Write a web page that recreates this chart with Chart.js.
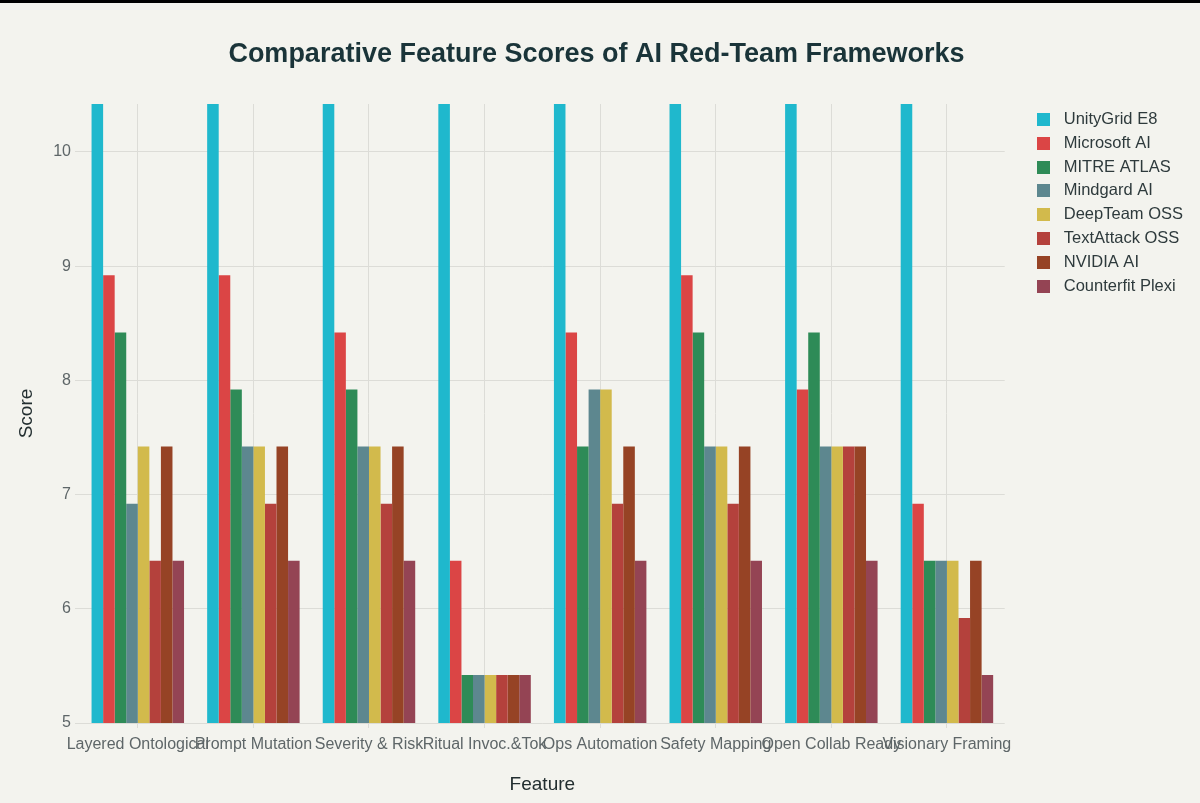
<!DOCTYPE html>
<html>
<head>
<meta charset="utf-8">
<script src="https://cdn.jsdelivr.net/npm/chart.js@4.4.1/dist/chart.umd.min.js"></script>
<style>
  html, body { margin: 0; padding: 0; background: #F3F3EE; }
  #topbar { width: 1200px; height: 3px; background: #000; }
  #wrap { position: relative; width: 1200px; height: 800px; }
</style>
</head>
<body>
<div id="topbar"></div>
<div id="wrap"><canvas id="c"></canvas></div>
<script>
const categories = ["Layered Ontological", "Prompt Mutation", "Severity & Risk", "Ritual Invoc.&Tok", "Ops Automation", "Safety Mapping", "Open Collab Ready", "Visionary Framing"];
const seriesNames = ["UnityGrid E8", "Microsoft AI", "MITRE ATLAS", "Mindgard AI", "DeepTeam OSS", "TextAttack OSS", "NVIDIA AI", "Counterfit Plexi"];
const seriesColors = ["#1FB8CD", "#DB4545", "#2E8B57", "#5D878F", "#D2BA4C", "#B4413C", "#964325", "#944454"];

const unityGrid   = [10.42, 10.42, 10.42, 10.42, 10.42, 10.42, 10.42, 10.42];
const microsoft   = [8.92, 8.92, 8.42, 6.42, 8.42, 8.92, 7.92, 6.92];
const mitreAtlas  = [8.42, 7.92, 7.92, 5.42, 7.42, 8.42, 8.42, 6.42];
const mindgard    = [6.92, 7.42, 7.42, 5.42, 7.92, 7.42, 7.42, 6.42];
const deepTeam    = [7.42, 7.42, 7.42, 5.42, 7.92, 7.42, 7.42, 6.42];
const textAttack  = [6.42, 6.92, 6.92, 5.42, 6.92, 6.92, 7.42, 5.92];
const nvidia      = [7.42, 7.42, 7.42, 5.42, 7.42, 7.42, 7.42, 6.42];
const counterfit  = [6.42, 6.42, 6.42, 5.42, 6.42, 6.42, 6.42, 5.42];

const yMin = 5, yMax = 10.42;
const yTicksStep = 1;

const seriesValues = [unityGrid, microsoft, mitreAtlas, mindgard, deepTeam, textAttack, nvidia, counterfit];

const FONT = "'Liberation Sans', Arial, Helvetica, sans-serif";
const GRID = "#DCDCD7";

// 13x13 colour swatches used as legend markers
const swatches = seriesColors.map(col => {
  const cv = document.createElement('canvas');
  cv.width = 13; cv.height = 13;
  const g = cv.getContext('2d');
  g.fillStyle = col; g.fillRect(0, 0, 13, 13);
  return cv;
});

const datasets = seriesNames.map((name, i) => ({
  label: name,
  data: seriesValues[i],
  backgroundColor: seriesColors[i],
  borderWidth: 0,
  categoryPercentage: 0.8,
  barPercentage: 1.0
}));

new Chart(document.getElementById('c'), {
  type: 'bar',
  data: { labels: categories, datasets },
  options: {
    responsive: true,
    maintainAspectRatio: false,
    animation: false,
    layout: { padding: { left: 0, right: 7, top: 0, bottom: 0 } },
    plugins: {
      title: {
        display: true,
        text: 'Comparative Feature Scores of AI Red-Team Frameworks',
        color: '#1A3439',
        font: { family: FONT, size: 27, weight: 'bold' },
        padding: { top: 35, bottom: 33.6 }
      },
      legend: {
        position: 'right',
        align: 'start',
        fullSize: false,
        labels: {
          usePointStyle: true,
          pointStyleWidth: 24.5,
          boxWidth: 13,
          boxHeight: 13,
          padding: 7.3,
          color: '#2E3A3C',
          font: { family: FONT, size: 16.5 },
          generateLabels: (chart) => {
            const items = Chart.defaults.plugins.legend.labels.generateLabels(chart);
            items.forEach((it, i) => { it.pointStyle = swatches[i]; });
            return items;
          }
        }
      },
      tooltip: { enabled: false }
    },
    scales: {
      x: {
        offset: true,
        grid: { display: true, offset: false, color: GRID, tickColor: GRID, tickLength: 5, drawTicks: true },
        border: { display: false },
        ticks: {
          autoSkip: false, maxRotation: 0, minRotation: 0, padding: 7,
          color: '#5E6668', font: { family: FONT, size: 16 }
        },
        title: {
          display: true, text: 'Feature', color: '#222E30',
          font: { family: FONT, size: 19 }, padding: { top: 0, bottom: 7 }
        },
        afterFit: (s) => { s.height = 80; }
      },
      y: {
        min: yMin, max: yMax,
        grid: { color: GRID, tickColor: GRID, tickLength: 5 },
        border: { display: false },
        ticks: {
          stepSize: yTicksStep, includeBounds: false, padding: 4,
          color: '#5E6668', font: { family: FONT, size: 16 }
        },
        title: {
          display: true, text: 'Score', color: '#222E30',
          font: { family: FONT, size: 19 }, padding: { top: 15, bottom: 0 }
        },
        afterFit: (s) => { s.width = 80; }
      },
      gap: {
        position: 'right',
        display: true,
        grid: { display: false },
        border: { display: false },
        ticks: { display: false },
        afterFit: (s) => { s.width = 19; }
      }
    }
  }
});
</script>
</body>
</html>
